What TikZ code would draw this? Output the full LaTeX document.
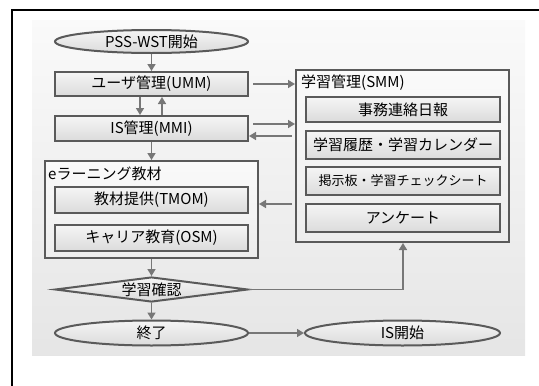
\documentclass[tikz,border=0pt]{standalone}
\usepackage{fontspec}
\setmainfont{Noto Sans CJK JP}
\usetikzlibrary{shapes.geometric,arrows.meta}
\definecolor{bord}{HTML}{5A5A5A}
\definecolor{arr}{HTML}{777777}
\begin{document}
\begin{tikzpicture}[x=1pt,y=-1pt,
  box/.style={rectangle,draw=bord,line width=2pt,top color=gray!8,bottom color=gray!28,
    minimum width=193pt,font=\fontsize{15}{17}\selectfont,inner sep=0pt},
  sbox/.style={rectangle,draw=bord,line width=2pt,top color=gray!8,bottom color=gray!28,
    minimum width=194pt,inner sep=0pt,font=\fontsize{15}{17}\selectfont},
  cont/.style={rectangle,draw=bord,line width=2pt,top color=gray!4,bottom color=gray!14,inner sep=0pt},
  oval/.style={ellipse,draw=bord,line width=2pt,top color=gray!8,bottom color=gray!28,
    inner sep=0pt,font=\fontsize{15}{17}\selectfont},
  dia/.style={diamond,draw=bord,line width=2pt,top color=gray!8,bottom color=gray!28,
    inner sep=0pt,aspect=7.7,font=\fontsize{15}{17}\selectfont},
  conn/.style={draw=arr,line width=1.6pt,-{Triangle[length=7pt,width=8pt]}},
  lbl/.style={font=\fontsize{15}{17}\selectfont,inner sep=0pt,anchor=west}]
\useasboundingbox (0,0) rectangle (539,386);
% frame
\draw[line width=1.4pt] (12,386) -- (12,10) -- (539,10);
% background panel
\shade[top color=gray!4,bottom color=gray!20] (32,20) rectangle (525,355);

% left column
\node[oval,minimum width=193pt,minimum height=23pt] (start) at (151.5,41.5) {PSS-WST開始};
\node[box,minimum height=24pt] (umm) at (151.5,84) {ユーザ管理(UMM)};
\node[box,minimum height=25pt] (mmi) at (151.5,128.5) {IS管理(MMI)};
\node[cont,minimum width=213pt,minimum height=97pt] (elearn) at (151.5,209.5) {};
\node[lbl] (elabel) at (48,174) {eラーニング教材};
\node[box,minimum height=26pt] (tmom) at (151.5,200) {教材提供(TMOM)};
\node[box,minimum height=26pt] (osm) at (151.5,238) {キャリア教育(OSM)};
\node[dia,minimum width=193pt,minimum height=25pt] (check) at (151.5,289.5) {学習確認};
\node[oval,minimum width=193pt,minimum height=25pt] (end) at (151.5,333) {終了};
\node[oval,minimum width=195pt,minimum height=25pt] (isstart) at (402.5,333) {IS開始};

% right column
\node[cont,minimum width=213pt,minimum height=172pt] (smm) at (402.5,156) {};
\node[lbl] (slabel) at (301,83) {学習管理(SMM)};
\node[sbox,minimum height=25pt] (s1) at (403,109.5) {事務連絡日報};
\node[sbox,minimum height=28pt] (s2) at (403,145) {学習履歴・学習カレンダー};
\node[sbox,minimum height=28pt,font=\fontsize{13}{15}\selectfont] (s3) at (403,181) {掲示板・学習チェックシート};
\node[sbox,minimum height=28pt] (s4) at (403,218) {アンケート};

% helper coordinates
\coordinate (d1) at (140,0);
\coordinate (u1) at (162,0);
\coordinate (h84) at (0,84);
\coordinate (h124) at (0,124);
\coordinate (h136) at (0,136);
\coordinate (h204) at (0,204);
\coordinate (bend) at (403,289.5);
\coordinate (s136) at (292,136);
\coordinate (s204) at (292,204);

% connectors
\draw[conn] (start) -- (umm);
\draw[conn] (umm.south -| d1) -- (mmi.north -| d1);
\draw[conn] (mmi.north -| u1) -- (umm.south -| u1);
\draw[conn] (mmi) -- (elearn);
\draw[conn] ([xshift=4pt]umm.east) -- (smm.west |- h84);
\draw[conn] ([xshift=4pt]mmi.east |- h124) -- (smm.west |- h124);
\draw[conn] (s136) -- (mmi.east |- h136);
\draw[conn] (s204) -- (elearn.east |- h204);
\draw[conn] (elearn) -- (check);
\draw[conn] (check.east) -- (bend) -- (smm.south -| bend);
\draw[conn] (check) -- (end);
\draw[conn] (end) -- (isstart);
\end{tikzpicture}
\end{document}
